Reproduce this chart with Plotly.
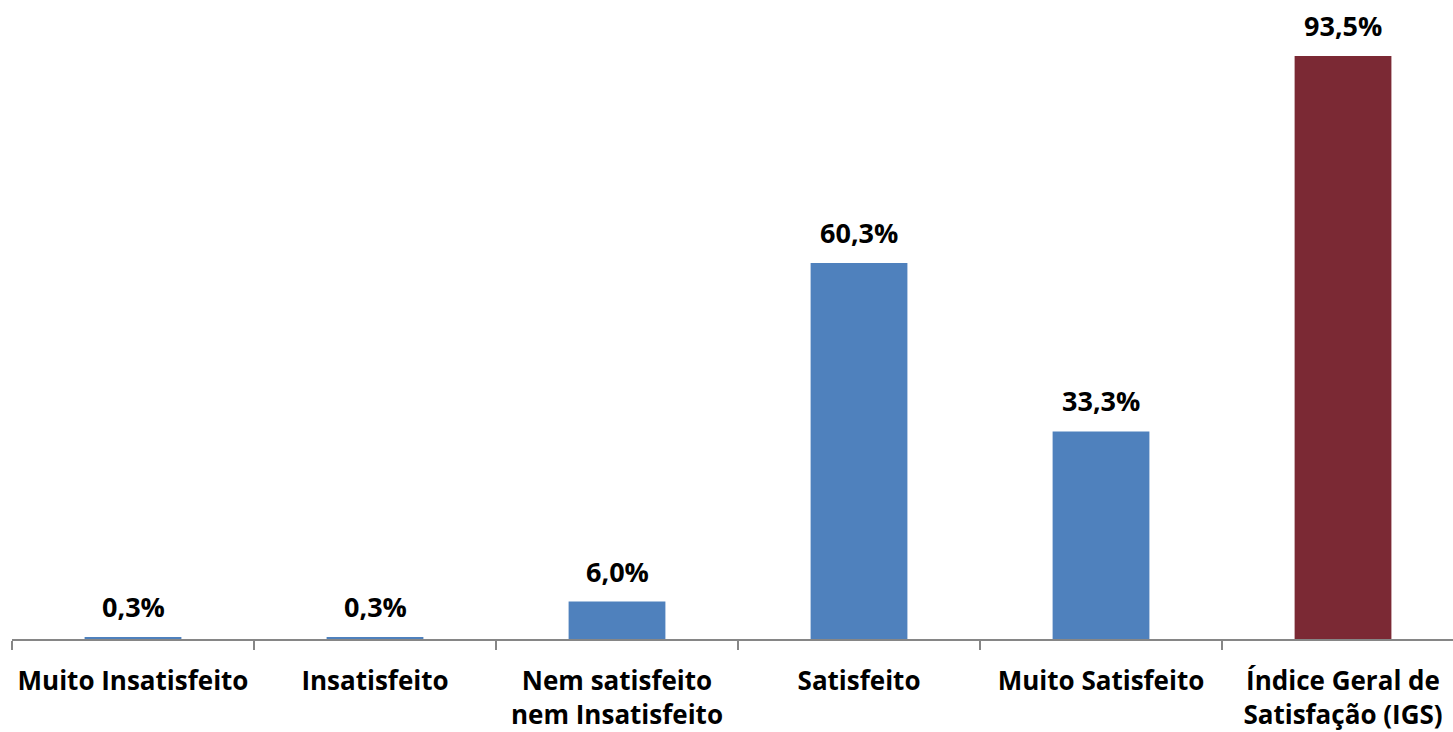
import plotly.graph_objects as go

categories = ["Muito Insatisfeito", "Insatisfeito", "Nem satisfeito<br>nem Insatisfeito",
              "Satisfeito", "Muito Satisfeito", "Índice Geral de<br>Satisfação (IGS)"]
values = [0.3, 0.3, 6.0, 60.3, 33.3, 93.5]
colors = ["#4F81BD", "#4F81BD", "#4F81BD", "#4F81BD", "#4F81BD", "#7B2934"]
labels = [f"{v:.1f}".replace(".", ",") + "%" for v in values]

FONT = "Open Sans"

fig = go.Figure(go.Bar(x=categories, y=values, marker=dict(color=colors, line=dict(width=0)),
                       hoverinfo="skip"))

for c, v, t in zip(categories, values, labels):
    fig.add_annotation(x=c, y=v, text=f"<b>{t}</b>", showarrow=False, yanchor="bottom",
                       yshift=10, font=dict(family=FONT, size=27, color="#000000"))

fig.update_layout(
    width=1453, height=732,
    margin=dict(l=12, r=0, t=0, b=93),
    paper_bgcolor="white", plot_bgcolor="white",
    bargap=0.6, showlegend=False,
    font=dict(family=FONT, size=26, color="#000000"),
)
fig.update_xaxes(
    type="category", range=[-0.5, 5.4545], tickson="boundaries",
    ticks="outside", ticklen=9, tickcolor="#868686", tickwidth=1.5,
    showline=True, linecolor="#868686", linewidth=1.5,
    showgrid=False, tickfont=dict(family=FONT, size=26, color="#000000", weight="bold"),
    ticklabelstandoff=18, automargin=False,
    fixedrange=True,
)
fig.update_yaxes(range=[0, 102.5], visible=False, fixedrange=True)

fig.write_html("out.html", config={"displayModeBar": False},
               post_script="document.body.style.margin='0';document.body.style.padding='0';")
